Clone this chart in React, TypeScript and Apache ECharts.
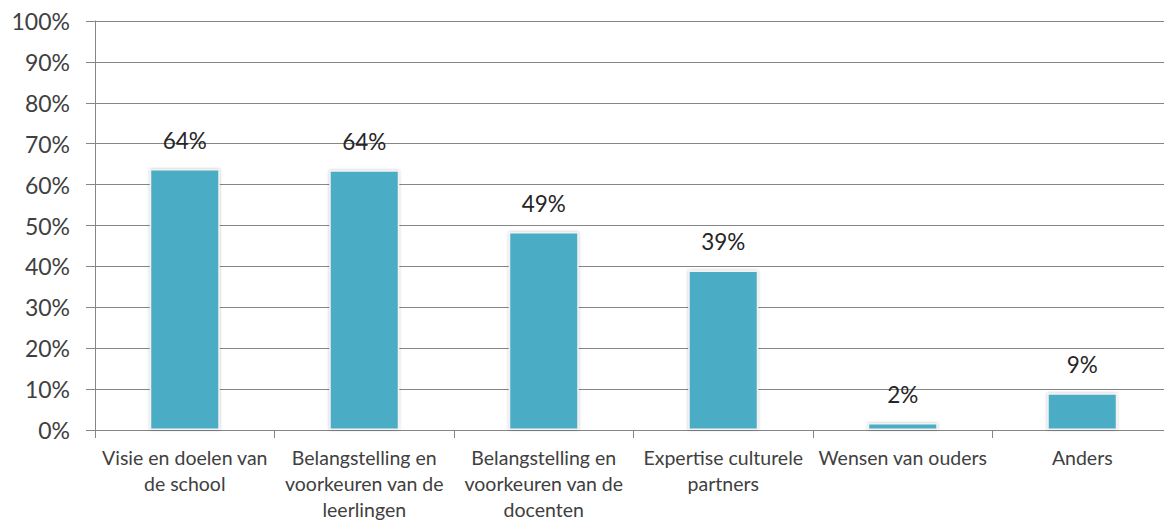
import React, { useEffect, useRef } from "react";
import * as echarts from "echarts";

const categories = [
  "Visie en doelen van\nde school",
  "Belangstelling en\nvoorkeuren van de\nleerlingen",
  "Belangstelling en\nvoorkeuren van de\ndocenten",
  "Expertise culturele\npartners",
  "Wensen van ouders",
  "Anders",
];
const values = [63.8, 63.5, 48.4, 39.0, 1.7, 9.0];
const valueLabels = ["64%", "64%", "49%", "39%", "2%", "9%"];

const FONT = "Lato, 'Open Sans', sans-serif";

export default function App() {
  const ref = useRef<HTMLDivElement>(null);
  useEffect(() => {
    if (!ref.current) return;
    const chart = echarts.init(ref.current, null, { renderer: "svg" });
    chart.setOption({
      animation: false,
      backgroundColor: "#ffffff",
      textStyle: { fontFamily: FONT },
      grid: { left: 95, right: 8, top: 21, bottom: 94, containLabel: false },
      xAxis: {
        type: "category",
        data: categories,
        axisLine: { show: true, lineStyle: { color: "#868686", width: 1 } },
        axisTick: { show: true, length: 8, interval: 0, lineStyle: { color: "#868686" } },
        axisLabel: {
          interval: 0,
          color: "#404040",
          fontSize: 19.5,
          lineHeight: 26,
          margin: 14,
          fontFamily: FONT,
        },
      },
      yAxis: {
        type: "value",
        min: 0,
        max: 100,
        interval: 10,
        axisLine: { show: true, lineStyle: { color: "#868686", width: 1 } },
        axisTick: { show: true, length: 9, inside: false, lineStyle: { color: "#868686" } },
        splitLine: { show: true, lineStyle: { color: "#868686", width: 1 } },
        axisLabel: {
          formatter: (v: number) => v + "%",
          color: "#404040",
          fontSize: 23,
          margin: 25,
          fontFamily: FONT,
        },
      },
      series: [
        {
          type: "bar",
          data: values,
          barWidth: "39%",
          itemStyle: {
            color: "#4BACC6",
            borderColor: "#f2f2f2",
            borderWidth: 1.5,
            shadowColor: "rgba(0,0,0,0.25)",
            shadowBlur: 3,
          },
          label: {
            show: true,
            position: "top",
            distance: 17,
            color: "#262626",
            fontSize: 22.5,
            fontFamily: FONT,
            formatter: (p: any) => valueLabels[p.dataIndex],
          },
        },
      ],
    });
    return () => chart.dispose();
  }, []);
  return (
    <div
      style={{
        position: "absolute",
        left: 0,
        top: 0,
        width: 1164,
        height: 524,
        overflow: "hidden",
        background: "#ffffff",
      }}
    >
      <div ref={ref} style={{ width: 1180, height: 524 }} />
    </div>
  );
}
